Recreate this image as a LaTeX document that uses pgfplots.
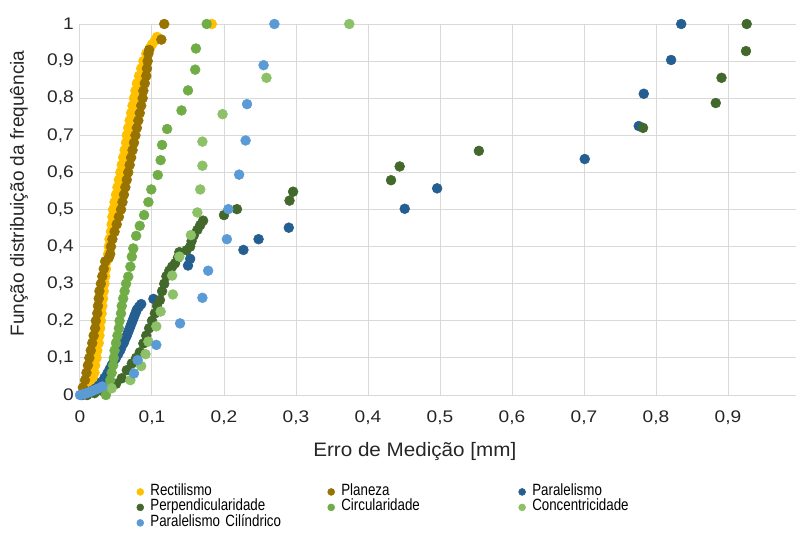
\documentclass[border=0pt]{standalone}
\usepackage{pgfplots}
\pgfplotsset{compat=1.18}
\usepackage{fontspec}
\setmainfont{Liberation Sans}
\newfontfamily\tickfont[FakeStretch=1.14]{Liberation Sans}
\newfontfamily\xlabfont[FakeStretch=1.06]{Liberation Sans}
\newfontfamily\legfont[FakeStretch=0.82]{Liberation Sans}
\definecolor{cRect}{HTML}{FFC000}
\definecolor{cPlan}{HTML}{997300}
\definecolor{cPara}{HTML}{255E91}
\definecolor{cPerp}{HTML}{43682B}
\definecolor{cCirc}{HTML}{70AD47}
\definecolor{cConc}{HTML}{8CC168}
\definecolor{cCil}{HTML}{5B9BD5}
\definecolor{gridc}{HTML}{D9D9D9}
\begin{document}
\begin{tikzpicture}
\useasboundingbox (-60pt,-105.75pt) rectangle (537pt,296.25pt);
\begin{axis}[
  at={(0,0)}, anchor=south west,
  scale only axis, width=540pt, height=278.25pt,
  xmin=0, xmax=1, ymin=0, ymax=1,
  xtick={0,0.1,...,1.01}, ytick={0,0.1,...,1.01},
  xticklabels={0,{0,1},{0,2},{0,3},{0,4},{0,5},{0,6},{0,7},{0,8},{0,9},1},
  yticklabels={0,{0,1},{0,2},{0,3},{0,4},{0,5},{0,6},{0,7},{0,8},{0,9},1},
  major tick length=0pt,
  grid=major,
  major grid style={draw=gridc, line width=0.75pt},
  axis line style={draw=gridc, line width=0.75pt},
  xticklabel style={font=\tickfont\fontsize{12.6}{15}\selectfont, text=black!85, inner sep=0pt, anchor=north, yshift=-11.25pt},
  yticklabel style={font=\tickfont\fontsize{12.6}{15}\selectfont, text=black!85, inner sep=0pt, anchor=east, xshift=-4.5pt},
  xlabel={Erro de Medição [mm]},
  ylabel={Função distribuição da frequência},
  xlabel style={at={([yshift=-45.75pt]rel axis cs:0.465,0)}, anchor=base, font=\xlabfont\fontsize{14.6}{17}\selectfont, text=black!85, inner sep=0pt},
  ylabel style={at={([xshift=-42pt]rel axis cs:0,0.543)}, anchor=base, font=\fontsize{14.3}{17}\selectfont, text=black!85, inner sep=0pt},
  legend columns=3,
  legend cell align=left,
  legend style={at={(rel axis cs:0,0)}, anchor=north west, xshift=42.4pt, yshift=-68pt,
    draw=none, fill=none, inner sep=0pt, row sep=2.6pt,
    font=\legfont\fontsize{12.2}{14}\selectfont,
    nodes={inner sep=0pt, text height=7pt, text depth=2pt, text width=133pt, align=left},
    /tikz/every odd column/.append style={column sep=5pt}},
  legend image code/.code={\draw[#1, mark size=2.6pt] plot coordinates {(0cm,0cm)};},
  every axis plot/.append style={only marks, mark=*, mark size=3.7pt},
]
\addplot[cRect, mark options={draw=cRect, fill=cRect}] coordinates {
(0.009,0.00)(0.016,0.02)(0.019,0.04)(0.020,0.06)(0.021,0.08)(0.023,0.10)(0.024,0.12)(0.026,0.14)(0.027,0.16)(0.028,0.18)
(0.029,0.20)(0.030,0.22)(0.031,0.24)(0.032,0.26)(0.033,0.28)(0.034,0.30)(0.035,0.32)(0.036,0.34)(0.037,0.36)(0.039,0.38)
(0.040,0.40)(0.041,0.42)(0.043,0.44)(0.044,0.46)(0.045,0.48)(0.046,0.50)(0.048,0.52)(0.050,0.54)(0.052,0.56)(0.054,0.58)
(0.056,0.60)(0.058,0.62)(0.060,0.64)(0.062,0.66)(0.064,0.68)(0.065,0.70)(0.067,0.72)(0.069,0.74)(0.071,0.76)(0.073,0.78)
(0.075,0.80)(0.077,0.82)(0.079,0.84)(0.082,0.86)(0.085,0.88)(0.088,0.90)(0.092,0.92)(0.097,0.935)(0.100,0.945)(0.104,0.955)
(0.107,0.965)(0.183,1.00)};
\addlegendentry{Rectilismo}
\addplot[cPlan, mark options={draw=cPlan, fill=cPlan}] coordinates {
(0.002,0.00)(0.004,0.02)(0.007,0.04)(0.009,0.06)(0.011,0.08)(0.013,0.10)(0.015,0.12)(0.017,0.14)(0.019,0.16)(0.021,0.18)
(0.022,0.20)(0.024,0.22)(0.025,0.24)(0.026,0.26)(0.027,0.28)(0.029,0.30)(0.031,0.32)(0.033,0.34)(0.035,0.36)(0.040,0.37)
(0.042,0.38)(0.043,0.40)(0.045,0.42)(0.048,0.44)(0.051,0.46)(0.054,0.48)(0.057,0.50)(0.059,0.52)(0.061,0.54)(0.063,0.56)
(0.065,0.58)(0.067,0.60)(0.069,0.62)(0.071,0.64)(0.073,0.66)(0.075,0.68)(0.077,0.70)(0.079,0.72)(0.081,0.74)(0.083,0.76)
(0.085,0.78)(0.087,0.80)(0.088,0.82)(0.090,0.84)(0.092,0.86)(0.093,0.88)(0.094,0.90)(0.095,0.92)(0.096,0.93)(0.113,0.958)
(0.117,1.00)};
\addlegendentry{Planeza}
\addplot[cPara, mark options={draw=cPara, fill=cPara}] coordinates {
(0.003,0.000)(0.008,0.004)(0.013,0.008)(0.018,0.013)(0.022,0.018)(0.026,0.025)(0.030,0.035)(0.034,0.046)(0.038,0.058)(0.041,0.069)
(0.044,0.080)(0.047,0.091)(0.050,0.100)(0.053,0.110)(0.056,0.121)(0.058,0.131)(0.061,0.141)(0.063,0.152)(0.065,0.160)(0.067,0.170)
(0.069,0.180)(0.071,0.190)(0.073,0.200)(0.075,0.210)(0.077,0.220)(0.079,0.230)(0.082,0.238)(0.085,0.245)(0.102,0.259)(0.150,0.349)
(0.153,0.367)(0.227,0.391)(0.248,0.420)(0.290,0.451)(0.451,0.502)(0.496,0.557)(0.701,0.636)(0.776,0.725)(0.783,0.812)(0.821,0.903)
(0.835,1.000)};
\addlegendentry{Paralelismo}
\addplot[cPerp, mark options={draw=cPerp, fill=cPerp}] coordinates {
(0.010,0.000)(0.020,0.005)(0.030,0.012)(0.040,0.020)(0.050,0.030)(0.058,0.045)(0.065,0.067)(0.072,0.085)(0.078,0.100)(0.083,0.115)
(0.088,0.139)(0.092,0.160)(0.096,0.180)(0.100,0.200)(0.104,0.220)(0.107,0.240)(0.111,0.256)(0.114,0.280)(0.117,0.300)(0.120,0.320)
(0.124,0.335)(0.128,0.346)(0.132,0.355)(0.136,0.370)(0.138,0.385)(0.148,0.390)(0.153,0.400)(0.155,0.415)(0.158,0.430)(0.163,0.445)
(0.167,0.458)(0.171,0.470)(0.200,0.485)(0.218,0.501)(0.291,0.524)(0.296,0.548)(0.432,0.579)(0.444,0.616)(0.554,0.658)(0.782,0.720)
(0.883,0.787)(0.891,0.855)(0.925,0.927)(0.926,1.000)};
\addlegendentry{Perpendicularidade}
\addplot[cCirc, mark options={draw=cCirc, fill=cCirc}] coordinates {
(0.036,0.000)(0.040,0.020)(0.042,0.040)(0.044,0.060)(0.046,0.080)(0.047,0.100)(0.048,0.120)(0.050,0.140)(0.052,0.160)(0.054,0.180)
(0.055,0.200)(0.057,0.220)(0.058,0.240)(0.060,0.260)(0.062,0.280)(0.064,0.300)(0.067,0.319)(0.070,0.346)(0.072,0.373)(0.074,0.395)
(0.078,0.429)(0.083,0.456)(0.089,0.485)(0.095,0.520)(0.099,0.554)(0.108,0.593)(0.112,0.633)(0.114,0.674)(0.121,0.717)(0.141,0.767)
(0.150,0.821)(0.160,0.877)(0.161,0.934)(0.176,1.000)};
\addlegendentry{Circularidade}
\addplot[cConc, mark options={draw=cConc, fill=cConc}] coordinates {
(0.044,0.018)(0.070,0.040)(0.085,0.078)(0.091,0.110)(0.095,0.144)(0.106,0.185)(0.112,0.225)(0.129,0.271)(0.128,0.322)(0.138,0.373)
(0.154,0.431)(0.163,0.492)(0.167,0.554)(0.170,0.618)(0.170,0.683)(0.198,0.757)(0.259,0.855)(0.374,1.000)};
\addlegendentry{Concentricidade}
\addplot[cCil, mark options={draw=cCil, fill=cCil}] coordinates {
(0.000,0.000)(0.004,0.002)(0.008,0.004)(0.012,0.007)(0.016,0.010)(0.021,0.014)(0.026,0.018)(0.031,0.023)(0.075,0.058)(0.080,0.094)
(0.106,0.135)(0.139,0.193)(0.170,0.262)(0.178,0.335)(0.204,0.420)(0.206,0.501)(0.221,0.594)(0.230,0.686)(0.232,0.784)(0.255,0.889)
(0.270,1.000)};
\addlegendentry{Paralelismo Cilíndrico}
\end{axis}
\end{tikzpicture}
\end{document}
